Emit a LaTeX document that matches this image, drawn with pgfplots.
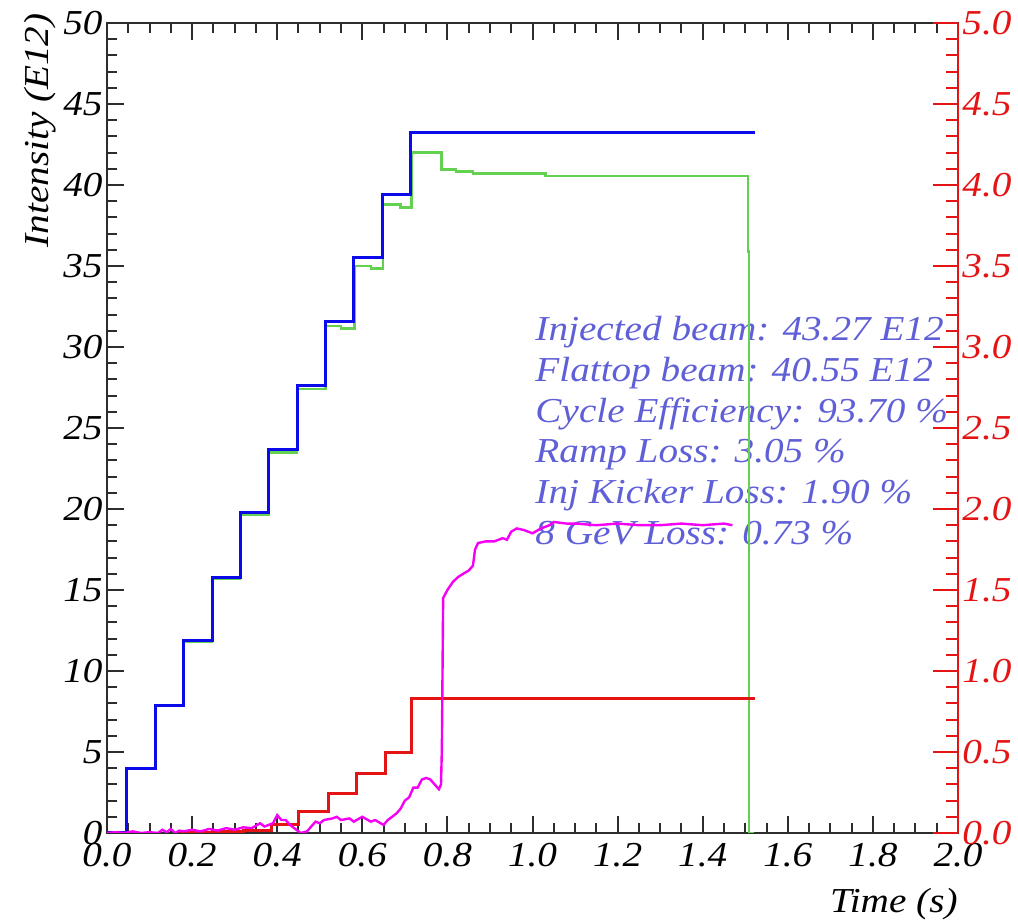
\documentclass[border=0pt]{standalone}
\usepackage{pgfplots}
\pgfplotsset{compat=1.18}
\usepackage{fontspec}
\setmainfont{Liberation Serif}[FakeStretch=1.12]
\definecolor{cblue}{RGB}{10,10,235}
\definecolor{cgreen}{RGB}{100,210,80}
\definecolor{cred}{RGB}{228,20,20}
\definecolor{cmag}{RGB}{245,0,245}
\definecolor{ctext}{RGB}{95,95,215}
\definecolor{caxis}{RGB}{45,45,45}
\newcommand{\lab}{\fontsize{17.5}{20}\selectfont\itshape}
\begin{document}
\begin{tikzpicture}
\begin{axis}[
  scale only axis, width=425.5pt, height=405pt,
  xmin=0, xmax=2, ymin=0, ymax=50,
  xtick={0,0.2,0.4,0.6,0.8,1.0,1.2,1.4,1.6,1.8,2.0},
  minor x tick num=3,
  ytick={0,5,10,15,20,25,30,35,40,45,50},
  minor y tick num=4,
  xtick pos=both, ytick pos=left,
  xticklabel pos=lower, yticklabel pos=left,
  tick align=inside,
  major tick length=8.5pt, minor tick length=5pt,
  every tick/.style={caxis, line width=1pt},
  axis line style={caxis, line width=1.1pt},
  /pgf/number format/assume math mode=true,
  ticklabel style={font=\lab, inner sep=0pt},
  xticklabel={\lab\pgfmathprintnumber[fixed,fixed zerofill,precision=1]{\tick}},
  yticklabel={\lab\pgfmathprintnumber{\tick}},
  xticklabel style={yshift=-5pt},
  yticklabel style={xshift=-2pt},
]
\coordinate (O) at (rel axis cs:0,0);
\coordinate (TL) at (rel axis cs:0,1);
\coordinate (BR) at (rel axis cs:1,0);
\node[font=\lab, text=ctext, anchor=base west, inner sep=0pt] at (axis cs:1.006,30.43) {Injected beam: 43.27 E12};
\node[font=\lab, text=ctext, anchor=base west, inner sep=0pt] at (axis cs:1.006,27.90) {Flattop beam: 40.55 E12};
\node[font=\lab, text=ctext, anchor=base west, inner sep=0pt] at (axis cs:1.006,25.37) {Cycle Efficiency: 93.70 \%};
\node[font=\lab, text=ctext, anchor=base west, inner sep=0pt] at (axis cs:1.006,22.84) {Ramp Loss: 3.05 \%};
\node[font=\lab, text=ctext, anchor=base west, inner sep=0pt] at (axis cs:1.006,20.31) {Inj Kicker Loss: 1.90 \%};
\node[font=\lab, text=ctext, anchor=base west, inner sep=0pt] at (axis cs:1.006,17.78) {8 GeV Loss: 0.73 \%};
% green: flattop intensity
\addplot[const plot mark left, cgreen, line width=1.3pt] coordinates {
(0,0) (0.047,3.95) (0.113,7.85) (0.180,11.8) (0.247,15.7) (0.313,19.65)
(0.380,23.5) (0.447,27.4) (0.513,31.3) (0.55,31.15) (0.582,35.0) (0.62,34.85)
(0.649,38.8) (0.69,38.6) (0.716,42.0) (0.786,40.95) (0.82,40.85) (0.86,40.7)
(1.03,40.55) (1.506,35.9) (1.509,0) (1.52,0)};
% blue: injected intensity
\addplot[const plot mark left, cblue, line width=1.5pt] coordinates {
(0,0) (0.047,4.0) (0.113,7.9) (0.180,11.9) (0.247,15.8) (0.313,19.8)
(0.380,23.7) (0.447,27.6) (0.513,31.6) (0.580,35.5) (0.647,39.4)
(0.713,43.27) (1.523,43.27)};
\end{axis}
\begin{axis}[
  scale only axis, width=425.5pt, height=405pt,
  xmin=0, xmax=2, ymin=0, ymax=5,
  axis x line=none, axis y line*=right,
  ytick={0,0.5,1.0,1.5,2.0,2.5,3.0,3.5,4.0,4.5,5.0},
  minor y tick num=4,
  tick align=inside,
  major tick length=12.5pt, minor tick length=6pt,
  every tick/.style={cred, line width=1pt},
  axis line style={cred, line width=1.1pt},
  /pgf/number format/assume math mode=true,
  yticklabel={\lab\pgfmathprintnumber[fixed,fixed zerofill,precision=1]{\tick}},
  yticklabel style={font=\lab, text=cred, inner sep=0pt, xshift=2pt},
]
% red: losses
\addplot[const plot mark left, cred, line width=1.5pt] coordinates {
(0.172,0.005) (0.247,0.008) (0.32,0.015) (0.387,0.05) (0.45,0.135) (0.52,0.245)
(0.587,0.37) (0.654,0.495) (0.716,0.83) (1.523,0.83)};
% magenta: loss monitor
\addplot[sharp plot, cmag, line width=1.2pt] coordinates {
(0.0,0.0) (0.02,0.005) (0.04,0.0) (0.06,0.01) (0.08,0.0) (0.10,0.005) (0.12,0.0)
(0.13,0.02) (0.14,0.005) (0.15,0.025) (0.16,0.0) (0.17,0.015) (0.18,0.01) (0.2,0.02)
(0.22,0.01) (0.24,0.025) (0.26,0.015) (0.28,0.03) (0.30,0.02) (0.32,0.035) (0.34,0.03)
(0.36,0.06) (0.37,0.04) (0.38,0.05) (0.39,0.06) (0.40,0.11) (0.41,0.08) (0.42,0.08)
(0.43,0.05) (0.44,0.03) (0.455,0.0) (0.47,0.01) (0.48,0.04) (0.49,0.07) (0.50,0.06)
(0.51,0.08) (0.53,0.09) (0.54,0.1) (0.55,0.08) (0.57,0.09) (0.58,0.07) (0.60,0.1)
(0.62,0.07) (0.63,0.08) (0.65,0.05) (0.66,0.08) (0.67,0.1) (0.68,0.12) (0.69,0.15)
(0.70,0.2) (0.71,0.22) (0.72,0.28) (0.73,0.28) (0.74,0.33) (0.75,0.34) (0.76,0.33)
(0.77,0.3) (0.78,0.27) (0.785,0.3) (0.787,0.52) (0.79,1.45) (0.80,1.5) (0.813,1.55)
(0.825,1.58) (0.837,1.6) (0.85,1.62) (0.86,1.65) (0.865,1.75) (0.872,1.79) (0.89,1.8)
(0.91,1.8) (0.93,1.82) (0.94,1.81) (0.95,1.86) (0.963,1.88) (0.98,1.87) (1.0,1.85)
(1.02,1.88) (1.04,1.9) (1.05,1.92) (1.08,1.91) (1.1,1.91) (1.15,1.9) (1.2,1.91)
(1.25,1.9) (1.3,1.9) (1.35,1.91) (1.4,1.9) (1.45,1.91) (1.47,1.9)};
\end{axis}
\node[font=\lab, rotate=90, anchor=base east, inner sep=0pt] at ([shift={(-29pt,5pt)}]TL) {Intensity (E12)};
\node[font=\lab, anchor=base east, inner sep=0pt] at ([yshift=-40pt]BR) {Time (s)};
\pgfresetboundingbox
\path[use as bounding box] ([shift={(-53.5pt,-44pt)}]O) rectangle ([shift={(455.5pt,416.5pt)}]O);
\end{tikzpicture}
\end{document}
